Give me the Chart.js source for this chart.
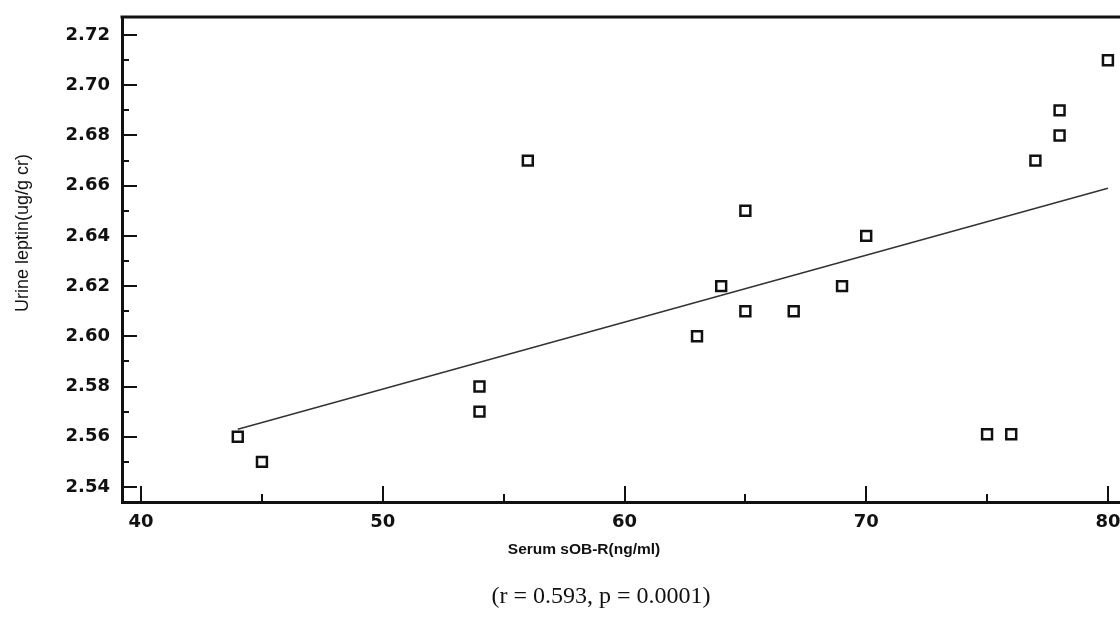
<!DOCTYPE html>
<html>
<head>
<meta charset="utf-8">
<script src="https://cdn.jsdelivr.net/npm/chart.js@4.4.1/dist/chart.umd.min.js"></script>
<style>
  html, body { margin: 0; padding: 0; background: #fff; overflow: hidden; }
  #wrap { width: 1120px; height: 620px; }
</style>
</head>
<body>
<div id="wrap"><canvas id="scatterChart" width="1120" height="620"></canvas></div>
<script>
// Serum sOB-R vs urine leptin
const serumSobr = [44, 45, 54, 54, 56, 63, 64, 65, 65, 67, 69, 70, 75, 76, 77, 78, 78, 80];
const urineLeptin = [2.56, 2.55, 2.58, 2.57, 2.67, 2.60, 2.62, 2.65, 2.61, 2.61, 2.62, 2.64, 2.561, 2.561, 2.67, 2.68, 2.69, 2.71];

// regression line end points
const fitX = [44, 80];
const fitY = [2.563, 2.659];

const xTicks = [40, 50, 60, 70, 80];
const xMinorTicks = [45, 55, 65, 75];
const yTicks = [2.54, 2.56, 2.58, 2.60, 2.62, 2.64, 2.66, 2.68, 2.70, 2.72];
const yMinorTicks = [2.55, 2.57, 2.59, 2.61, 2.63, 2.65, 2.67, 2.69, 2.71];

const xTitle = "Serum sOB-R(ng/ml)";
const yTitle = "Urine leptin(ug/g cr)";
const caption = "(r = 0.593, p = 0.0001)";

// ticks point into the plot, plus top frame line and the texts
const frameAndText = {
    id: "frameAndText",
    afterDraw(chart) {
        const { ctx, chartArea: a, scales: { x, y } } = chart;
        ctx.save();
        ctx.strokeStyle = "#111";
        ctx.lineWidth = 2;
        ctx.beginPath();
        yTicks.forEach((v) => {
            const py = Math.round(y.getPixelForValue(v));
            ctx.moveTo(a.left, py);
            ctx.lineTo(a.left + 15, py);
        });
        yMinorTicks.forEach((v) => {
            const py = Math.round(y.getPixelForValue(v));
            ctx.moveTo(a.left, py);
            ctx.lineTo(a.left + 7, py);
        });
        xTicks.forEach((v) => {
            const px = Math.round(x.getPixelForValue(v));
            ctx.moveTo(px, a.bottom);
            ctx.lineTo(px, a.bottom - 16);
        });
        xMinorTicks.forEach((v) => {
            const px = Math.round(x.getPixelForValue(v));
            ctx.moveTo(px, a.bottom);
            ctx.lineTo(px, a.bottom - 8);
        });
        ctx.stroke();

        // top frame
        ctx.lineWidth = 3;
        ctx.beginPath();
        ctx.moveTo(a.left - 1.5, a.top);
        ctx.lineTo(a.right, a.top);
        ctx.stroke();

        ctx.fillStyle = "#111";
        ctx.textAlign = "center";
        ctx.textBaseline = "middle";
        ctx.font = "bold 15.5px 'Liberation Sans', Arial, sans-serif";
        ctx.fillText(xTitle, 584, 550);

        ctx.font = "24px 'Liberation Serif', 'Times New Roman', serif";
        ctx.fillText(caption, 601, 597);

        ctx.translate(23, 233);
        ctx.rotate(-Math.PI / 2);
        ctx.font = "18px 'Liberation Sans', Arial, sans-serif";
        ctx.fillText(yTitle, 0, 0);
        ctx.restore();
    },
};

const ctx = document.getElementById("scatterChart").getContext("2d");
const scatterChart = new Chart(ctx, {
    type: "scatter",
    data: {
        datasets: [
            {
                label: "Patients",
                data: serumSobr.map((v, i) => ({ x: v, y: urineLeptin[i] })),
                pointStyle: "rect",
                pointRadius: 7,
                pointHoverRadius: 7,
                pointBorderWidth: 2.5,
                borderColor: "#111",
                backgroundColor: "#fff",
            },
            {
                type: "line",
                label: "Fit",
                data: fitX.map((v, i) => ({ x: v, y: fitY[i] })),
                borderColor: "#333",
                borderWidth: 1.5,
                pointRadius: 0,
                fill: false,
            },
        ],
    },
    options: {
        responsive: false,
        animation: false,
        layout: {
            autoPadding: false,
            padding: { top: 17, right: 0, left: 0, bottom: 0 },
        },
        plugins: {
            legend: { display: false },
            tooltip: { enabled: false },
        },
        scales: {
            x: {
                type: "linear",
                min: 39.21,
                max: 80.5,
                grid: { display: false, drawTicks: false },
                border: { display: true, color: "#111", width: 3 },
                afterBuildTicks: (scale) => {
                    scale.ticks = xTicks.map((v) => ({ value: v }));
                },
                afterFit: (scale) => {
                    scale.height = 118;
                    scale.paddingLeft = 0;
                    scale.paddingRight = 0;
                },
                ticks: {
                    padding: 10,
                    color: "#111",
                    font: { family: "'DejaVu Sans', sans-serif", size: 18, weight: "bold" },
                    callback: (v) => String(v),
                },
            },
            y: {
                min: 2.534,
                max: 2.7272,
                grid: { display: false, drawTicks: false },
                border: { display: true, color: "#111", width: 3 },
                afterBuildTicks: (scale) => {
                    scale.ticks = yTicks.map((v) => ({ value: v }));
                },
                afterFit: (scale) => {
                    scale.width = 122;
                    scale.paddingTop = 0;
                    scale.paddingBottom = 0;
                },
                ticks: {
                    padding: 12,
                    color: "#111",
                    font: { family: "'DejaVu Sans', sans-serif", size: 18, weight: "bold" },
                    callback: (v) => Number(v).toFixed(2),
                },
            },
        },
    },
    plugins: [frameAndText],
});
</script>
</body>
</html>
